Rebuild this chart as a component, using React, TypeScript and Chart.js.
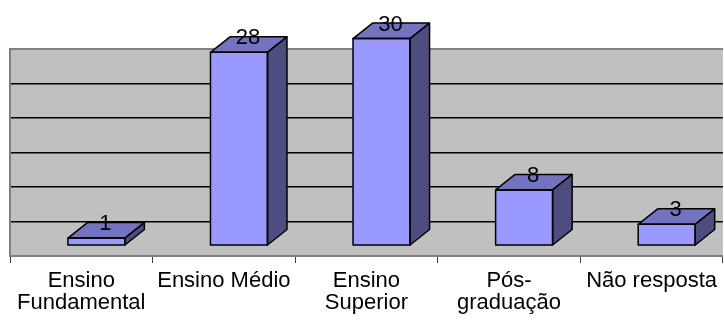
import React, { useEffect, useRef } from "react";
import { Chart, registerables } from "chart.js";

Chart.register(...registerables);

const categories: (string | string[])[] = [
  ["Ensino", "Fundamental"],
  "Ensino Médio",
  ["Ensino", "Superior"],
  ["Pós-", "graduação"],
  "Não resposta",
];
const values = [1, 28, 30, 8, 3];
const wallTicks = [0, 5, 10, 15, 20, 25, 30];

const FONT = "'Liberation Sans', Arial, Helvetica, sans-serif";
const DX = 19.5;
const DY = 15.5;
const FRONT = "#9999ff";
const TOP = "#7373bf";
const SIDE = "#4d4d80";

const wallPlugin = {
  id: "wall",
  beforeDraw(chart: any) {
    const { ctx, chartArea } = chart;
    ctx.save();
    ctx.fillStyle = "#c0c0c0";
    ctx.fillRect(chartArea.left, chartArea.top, chartArea.right - chartArea.left, chartArea.bottom - chartArea.top);
    ctx.restore();
  },
  beforeDatasetsDraw(chart: any) {
    const { ctx, chartArea } = chart;
    ctx.save();
    ctx.strokeStyle = "#808080";
    ctx.lineWidth = 2;
    ctx.beginPath();
    ctx.moveTo(chartArea.left, chartArea.bottom);
    ctx.lineTo(chartArea.left, chartArea.top);
    ctx.lineTo(chartArea.right, chartArea.top);
    ctx.stroke();
    ctx.restore();
  },
};

const bar3dPlugin = {
  id: "bar3d",
  afterDatasetsDraw(chart: any) {
    const { ctx } = chart;
    const meta = chart.getDatasetMeta(0);
    ctx.save();
    ctx.lineWidth = 1.5;
    ctx.strokeStyle = "#000";
    ctx.lineJoin = "round";
    meta.data.forEach((bar: any, i: number) => {
      const { x, y, base, width } = bar.getProps(["x", "y", "base", "width"], true);
      const l = x - width / 2;
      const r = x + width / 2;
      // top face
      ctx.beginPath();
      ctx.moveTo(l, y);
      ctx.lineTo(r, y);
      ctx.lineTo(r + DX, y - DY);
      ctx.lineTo(l + DX, y - DY);
      ctx.closePath();
      ctx.fillStyle = TOP;
      ctx.fill();
      ctx.stroke();
      // side face
      ctx.beginPath();
      ctx.moveTo(r, y);
      ctx.lineTo(r + DX, y - DY);
      ctx.lineTo(r + DX, base - DY);
      ctx.lineTo(r, base);
      ctx.closePath();
      ctx.fillStyle = SIDE;
      ctx.fill();
      ctx.stroke();
      // front outline
      ctx.strokeRect(l, y, width, base - y);
      // label
      ctx.fillStyle = "#000";
      ctx.font = `22px ${FONT}`;
      ctx.textAlign = "center";
      ctx.textBaseline = "alphabetic";
      ctx.fillText(String(values[i]), x + 9, y - 8);
    });
    ctx.restore();
  },
};

export default function App() {
  const ref = useRef<HTMLCanvasElement>(null);
  useEffect(() => {
    document.body.style.margin = "0";
    const canvas = ref.current;
    if (!canvas) return;
    const shift = 0.106;
    const chart = new Chart(canvas, {
      type: "bar",
      data: {
        labels: categories as any,
        datasets: [
          {
            data: values.map((v, i) => ({ x: i, y: v })) as any,
            xAxisID: "xb",
            yAxisID: "y",
            backgroundColor: FRONT,
            borderColor: "#000",
            borderWidth: 0,
            barThickness: 57,
            clip: false as any,
          },
        ],
      },
      options: {
        animation: false,
        responsive: false,
        maintainAspectRatio: false,
        layout: { padding: { top: 49, left: 10, right: 0, bottom: 0 } },
        plugins: { legend: { display: false }, tooltip: { enabled: false } },
        scales: {
          x: {
            type: "category",
            position: "bottom",
            offset: true,
            grid: {
              display: true,
              offset: true,
              drawOnChartArea: false,
              drawTicks: true,
              tickLength: 7,
              color: "#404040",
              lineWidth: 1,
            },
            border: { display: true, color: "#808080", width: 2 },
            ticks: {
              color: "#000",
              font: { family: FONT, size: 22, lineHeight: 1.0 },
              padding: 7,
              maxRotation: 0,
              autoSkip: false,
            },
            afterFit: (scale: any) => {
              scale.height = 64;
            },
          },
          xb: {
            type: "linear",
            display: false,
            offset: false,
            grid: { offset: false },
            min: -0.5 - shift,
            max: 4.5 - shift,
          },
          y: {
            type: "linear",
            display: false,
            min: -1.6,
            max: 28.49,
          },
          yWall: {
            type: "linear",
            position: "left",
            min: wallTicks[0],
            max: wallTicks[wallTicks.length - 1],
            afterBuildTicks: (scale: any) => {
              scale.ticks = wallTicks.map((v) => ({ value: v }));
            },
            ticks: { display: false },
            grid: {
              drawTicks: false,
              color: "#000",
              lineWidth: 1.5,
            },
            border: { display: false },
          },
        },
      },
      plugins: [wallPlugin, bar3dPlugin],
    });
    return () => chart.destroy();
  }, []);
  return (
    <div style={{ width: 724, height: 320 }}>
      <canvas ref={ref} width={724} height={320} style={{ display: "block" }} />
    </div>
  );
}
